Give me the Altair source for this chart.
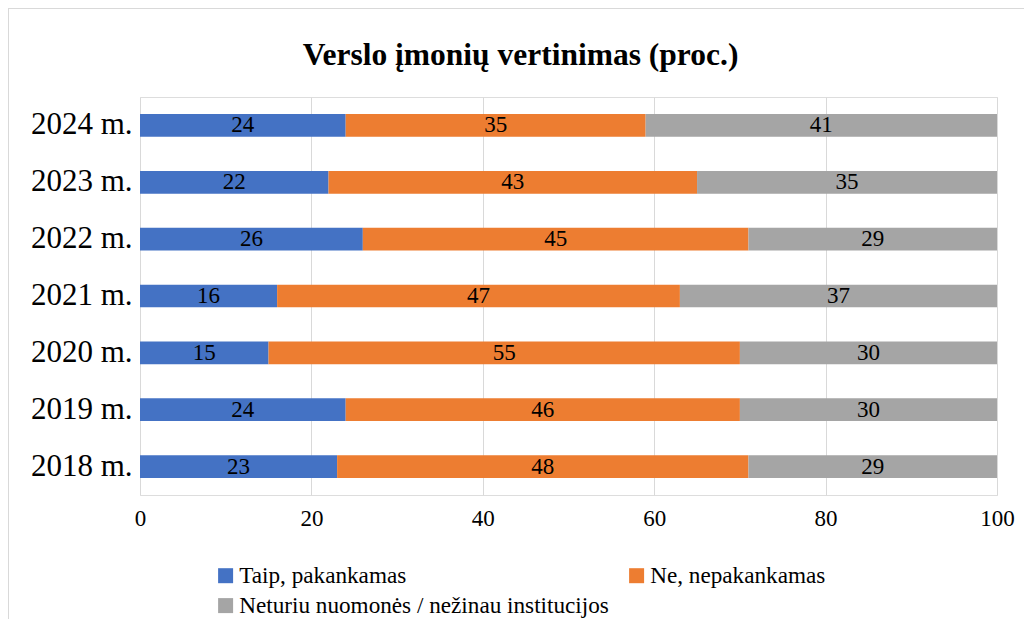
import altair as alt
import pandas as pd

years = ["2024 m.", "2023 m.", "2022 m.", "2021 m.", "2020 m.", "2019 m.", "2018 m."]
categories = ["Taip, pakankamas", "Ne, nepakankamas", "Neturiu nuomonės / nežinau institucijos"]
taip = [24, 22, 26, 16, 15, 24, 23]
ne = [35, 43, 45, 47, 55, 46, 48]
neturiu = [41, 35, 29, 37, 30, 30, 29]
colors = ["#4472C4", "#ED7D31", "#A5A5A5"]

rows = []
for i, y in enumerate(years):
    for k, (cat, vals) in enumerate(zip(categories, [taip, ne, neturiu])):
        rows.append({"year": y, "cat": cat, "order": k, "value": vals[i]})
df = pd.DataFrame(rows)

# legend is laid out column-major: put entries in the order that gives
# row 1: Taip | Ne,  row 2: Neturiu
legend_domain = [categories[0], categories[2], categories[1]]
legend_range = [colors[0], colors[2], colors[1]]

FONT = "Liberation Serif"
W, H = 857, 398

base = alt.Chart(df).transform_stack(
    stack="value", as_=["x0", "x1"], groupby=["year"], sort=[alt.SortField("order")]
).transform_calculate(mid="(datum.x0 + datum.x1) / 2")

ycol = alt.Y("year:N", sort=years, title=None,
             scale=alt.Scale(paddingInner=0.6, paddingOuter=0.3),
             axis=alt.Axis(labelFont=FONT, labelFontSize=31, labelColor="#000000",
                           ticks=False, domain=False, labelPadding=8))

bars = base.mark_bar().encode(
    x=alt.X("x0:Q", scale=alt.Scale(domain=[0, 100]), title=None,
            axis=alt.Axis(values=[0, 20, 40, 60, 80, 100], grid=True, gridColor="#D9D9D9",
                          gridWidth=1, ticks=False, domain=False, labelFont=FONT,
                          labelFontSize=23, labelColor="#000000", labelPadding=12,
                          labelFlush=False)),
    x2="x1:Q",
    y=ycol,
    color=alt.Color("cat:N", scale=alt.Scale(domain=legend_domain, range=legend_range), title=None,
                    legend=alt.Legend(orient="none", legendX=74, legendY=467, columns=2,
                                      columnPadding=16, rowPadding=6, symbolType="square",
                                      symbolSize=225, symbolStrokeWidth=0, labelFont=FONT,
                                      labelFontSize=23.2, labelColor="#000000", labelOffset=2,
                                      labelLimit=500, padding=0)),
)

labels = base.mark_text(font=FONT, fontSize=23, color="#000000", baseline="middle").encode(
    x=alt.X("mid:Q"),
    y=alt.Y("year:N", sort=years),
    text=alt.Text("value:Q"),
)

border = alt.Chart(df).mark_rect(fill=None, stroke="#D9D9D9", strokeWidth=1).encode(
    x=alt.value(-131.5), x2=alt.value(W + 40), y=alt.value(-88.5), y2=alt.value(H + 140)
)

chart = alt.layer(border, bars, labels).properties(
    width=W, height=H,
    title=alt.TitleParams("Verslo įmonių vertinimas (proc.)", font=FONT, fontSize=31.5,
                          fontWeight="bold", color="#000000", anchor="middle", dx=-48,
                          offset=-63),
    autosize=alt.AutoSizeParams(type="none"),
    padding={"left": 132, "top": 89, "right": 27, "bottom": 124},
).configure_view(stroke=None).configure(
    background="#FFFFFF", font=FONT,
).configure_legend(labelFont=FONT)

chart.save("out.html", embed_options={"renderer": "svg", "actions": False})
